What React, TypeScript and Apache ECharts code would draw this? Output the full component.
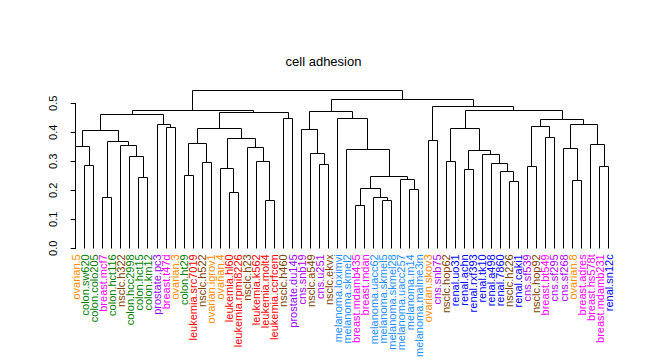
import React, { useEffect, useRef } from "react";
import * as echarts from "echarts";

const leafLabels = [
  "ovarian.5", "colon.sw620", "colon.colo205", "breast.mcf7", "colon.hct116",
  "nsclc.h322", "colon.hcc2998", "colon.hct15", "colon.km12", "prostate.pc3",
  "breast.t47d", "ovarian.3", "colon.ht29", "leukemia.src7019", "nsclc.h522",
  "ovarian.igrov1", "ovarian.4", "leukemia.hl60", "leukemia.rpmi8226", "nsclc.h23",
  "leukemia.k562", "leukemia.molt4", "leukemia.ccrfcem", "nsclc.h460", "prostate.du145",
  "cns.snb19", "nsclc.a549", "cns.u251", "nsclc.ekvx", "melanoma.loximvi",
  "melanoma.skmel2", "breast.mdamb435", "breast.mdan", "melanoma.uacc62", "melanoma.skmel5",
  "melanoma.skmel28", "melanoma.uacc257", "melanoma.m14", "melanoma.malme3m", "ovarian.skov3",
  "cns.snb75", "nsclc.hop62", "renal.uo31", "renal.achn", "renal.rxf393",
  "renal.tk10", "renal.a498", "renal.7860", "nsclc.h226", "renal.caki1",
  "cns.sf539", "nsclc.hop92", "breast.bt549", "cns.sf295", "cns.sf268",
  "ovarian.8", "breast.adres", "breast.hs578t", "breast.mdamb231", "renal.sn12c",
];

const typeColors: Record<string, string> = {
  ovarian: "#FF8C00",
  colon: "#008000",
  breast: "#FF00FF",
  nsclc: "#7F4000",
  prostate: "#9900FF",
  cns: "#B000FF",
  leukemia: "#FF0000",
  melanoma: "#1E90FF",
  renal: "#0000FF",
};

// hclust-style merges: negative = leaf (1-based), positive = earlier merge row (1-based)
const mergeLeft = [
  -32, -35, -22, -4, -34, -18, -38, 1, -49, -56,
  -37, -8, 8, -13, -48, -44, -17, -51, -59, -2,
  -28, -47, -15, -21, -42, -7, -46, -27, 16, -31,
  -55, -20, -1, -6, -58, 14, 4, -40, 17, -53,
  33, -26, 25, 36, -11, 18, -10, 31, 46, -24,
  -30, 41, 44, 42, 52, 43, 38, 54, 55,
];
const mergeRight = [
  -33, -36, -23, -5, 2, -19, -39, 5, -50, -57,
  7, -9, 11, -14, 9, -45, 6, -52, -60, -3,
  -29, 15, -16, 3, -43, 12, 22, 21, 27, 13,
  10, 24, 20, 26, 19, 23, 34, -41, 32, -54,
  37, 28, 29, 39, -12, 40, 45, 35, 48, -25,
  30, 47, 50, 51, 53, 49, 56, 57, 58,
];
const mergeHeight = [
  0.148, 0.166, 0.166, 0.176, 0.176, 0.193, 0.203, 0.207, 0.231, 0.234,
  0.238, 0.245, 0.249, 0.252, 0.266, 0.272, 0.276, 0.283, 0.283, 0.286,
  0.290, 0.293, 0.297, 0.300, 0.300, 0.317, 0.324, 0.328, 0.338, 0.341,
  0.345, 0.348, 0.352, 0.355, 0.359, 0.362, 0.368, 0.372, 0.379, 0.383,
  0.407, 0.410, 0.414, 0.414, 0.417, 0.421, 0.428, 0.428, 0.445, 0.448,
  0.448, 0.462, 0.469, 0.472, 0.476, 0.476, 0.490, 0.514, 0.545,
];

const titleText = "cell adhesion";

function buildSegments() {
  const nodeX: number[] = [];
  const nodeH: number[] = [];
  const pos = (ref: number): [number, number] =>
    ref < 0 ? [-ref - 1, 0] : [nodeX[ref - 1], nodeH[ref - 1]];
  const segs: number[][] = [];
  for (let i = 0; i < mergeHeight.length; i++) {
    const [xl, hl] = pos(mergeLeft[i]);
    const [xr, hr] = pos(mergeRight[i]);
    nodeX[i] = (xl + xr) / 2;
    nodeH[i] = mergeHeight[i];
    segs.push([xl, hl, xr, hr, mergeHeight[i]]);
  }
  return segs;
}

export default function App() {
  const ref = useRef<HTMLDivElement>(null);
  useEffect(() => {
    document.body.style.margin = "0";
    if (!ref.current) return;
    const chart = echarts.init(ref.current, undefined, { renderer: "svg" });
    const font = "'Liberation Sans', Arial, sans-serif";
    const segs = buildSegments();
    const snap = (v: number) => Math.round(v - 0.5) + 0.5;
    chart.setOption({
      animation: false,
      backgroundColor: "#ffffff",
      textStyle: { fontFamily: font },
      title: {
        text: titleText,
        left: "center",
        top: 50,
        textStyle: { fontSize: 13, fontWeight: "normal", color: "#000", fontFamily: font },
      },
      grid: { left: 71.2, right: 33.8, top: 103.3, bottom: 111.7, containLabel: false },
      xAxis: [
        {
          type: "category",
          data: leafLabels.map((l) => ({
            value: l,
            textStyle: { color: typeColors[l.split(".")[0]] },
          })),
          boundaryGap: true,
          axisLine: { show: false },
          axisTick: { show: false },
          splitLine: { show: false },
          axisLabel: {
            interval: 0,
            rotate: 90,
            margin: 6,
            fontSize: 11,
            fontFamily: font,
          },
        },
        {
          type: "value",
          min: -0.5,
          max: 59.5,
          show: false,
        },
      ],
      yAxis: {
        type: "value",
        min: 0,
        max: 0.5,
        interval: 0.1,
        offset: 4.9,
        axisLine: { show: true, lineStyle: { color: "#000", width: 1 } },
        axisTick: { show: true, length: 5, lineStyle: { color: "#000" } },
        splitLine: { show: false },
        axisLabel: {
          rotate: 90,
          margin: 8,
          fontSize: 11,
          color: "#000",
          fontFamily: font,
          formatter: (v: number) => v.toFixed(1),
        },
      },
      series: [
        {
          type: "custom",
          xAxisIndex: 1,
          yAxisIndex: 0,
          clip: false,
          data: segs,
          renderItem: (_p: any, api: any) => {
            const a = api.coord([api.value(0), api.value(1)]);
            const b = api.coord([api.value(0), api.value(4)]);
            const c = api.coord([api.value(2), api.value(4)]);
            const d = api.coord([api.value(2), api.value(3)]);
            const pts = [a, b, c, d].map((p: number[]) => [snap(p[0]), snap(p[1])]);
            return {
              type: "polyline",
              shape: { points: pts },
              style: { stroke: "#000", lineWidth: 1, fill: null },
            };
          },
        },
      ],
    });
    return () => chart.dispose();
  }, []);
  return <div ref={ref} style={{ width: 647, height: 360 }} />;
}
